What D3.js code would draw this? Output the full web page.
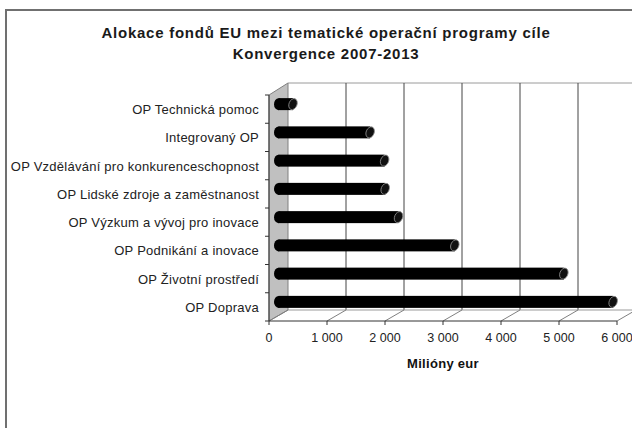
<!DOCTYPE html>
<html><head><meta charset="utf-8">
<script src="https://cdn.jsdelivr.net/npm/d3@7"></script>
<style>html,body{margin:0;padding:0;background:#fff;}svg{display:block;}</style>
</head><body>
<svg id="c" width="632" height="428"></svg>
<script>
const categories = ["OP Technická pomoc","Integrovaný OP","OP Vzdělávání pro konkurenceschopnost","OP Lidské zdroje a zaměstnanost","OP Výzkum a vývoj pro inovace","OP Podnikání a inovace","OP Životní prostředí","OP Doprava"];
const values = [250, 1580, 1830, 1840, 2070, 3040, 4920, 5770];
const tickValues = [0,1000,2000,3000,4000,5000,6000];
const tickLabels = ["0","1 000","2 000","3 000","4 000","5 000","6 000"];
const titleLines = ["Alokace fondů EU mezi tematické operační programy cíle","Konvergence 2007-2013"];
const axisTitle = "Milióny eur";

const svg = d3.select("#c");
const font = "'Liberation Sans', Arial, sans-serif";
const DX = 19, DY = -11;
const x = d3.scaleLinear().domain([0,6000]).range([269,617]);
const y = d3.scaleBand().domain(categories).range([95,321]);
const yTop = 95, yBot = 321;

// frame
svg.append("rect").attr("x",6).attr("y",10).attr("width",700).attr("height",500)
  .attr("fill","none").attr("stroke","#707070").attr("stroke-width",2);

// title
svg.append("g").selectAll("text").data(titleLines).join("text")
  .attr("x",326).attr("y",(d,i)=>38+i*21).attr("text-anchor","middle")
  .attr("font-family",font).attr("font-size",15).attr("font-weight","bold")
  .attr("letter-spacing",0.75).attr("fill","#1a1a1a").text(d=>d);

// back wall
svg.append("line").attr("x1",x(0)+DX).attr("x2",640).attr("y1",yTop+DY-1).attr("y2",yTop+DY-1)
  .attr("stroke","#9a9a9a").attr("stroke-width",1);
svg.append("g").selectAll("line").data(tickValues.slice(1)).join("line")
  .attr("x1",d=>x(d)+DX).attr("x2",d=>x(d)+DX).attr("y1",yTop+DY-1).attr("y2",yBot+DY)
  .attr("stroke","#444").attr("stroke-width",1);
svg.append("line").attr("x1",x(0)+DX).attr("x2",640).attr("y1",yBot+DY).attr("y2",yBot+DY)
  .attr("stroke","#9a9a9a");

// left wall
svg.append("path").attr("d",`M${x(0)},${yTop}L${x(0)+DX},${yTop+DY-1}L${x(0)+DX},${yBot+DY}L${x(0)},${yBot}Z`)
  .attr("fill","#c0c0c0").attr("stroke","#808080").attr("stroke-width",1);

// floor diagonals
svg.append("g").selectAll("line").data(tickValues).join("line")
  .attr("x1",d=>x(d)).attr("y1",yBot).attr("x2",d=>x(d)+DX).attr("y2",yBot+DY)
  .attr("stroke","#808080").attr("stroke-width",1);

// bars
const h = 12, mdx = DX/2, mdy = DY/2;
const bars = svg.append("g").selectAll("g").data(categories).join("g");
bars.each(function(c,i){
  const g = d3.select(this);
  const cy = y(c) + y.bandwidth()/2 + mdy + 0.5;
  const xs = x(0) + mdx, xe = x(values[i]) + mdx;
  g.append("ellipse").attr("cx",xs).attr("cy",cy).attr("rx",4.5).attr("ry",h/2).attr("fill","#000");
  g.append("rect").attr("x",xs).attr("y",cy-h/2).attr("width",Math.max(0,xe-xs)).attr("height",h).attr("fill","#000");
  g.append("ellipse").attr("cx",xe).attr("cy",cy).attr("rx",4).attr("ry",h/2-0.3)
    .attr("transform",`rotate(22,${xe},${cy})`).attr("fill","#111").attr("stroke","#8a8a8a").attr("stroke-width",0.8);
});

// left axis
svg.append("line").attr("x1",x(0)).attr("x2",x(0)).attr("y1",yTop).attr("y2",yBot).attr("stroke","#333");
const bounds = categories.map(c=>y(c)).concat([yBot]);
svg.append("g").selectAll("line").data(bounds).join("line")
  .attr("x1",x(0)-4).attr("x2",x(0)).attr("y1",d=>d).attr("y2",d=>d).attr("stroke","#333");
svg.append("g").selectAll("text").data(categories).join("text")
  .attr("x",259).attr("y",c=>y(c)+y.bandwidth()/2+5).attr("text-anchor","end")
  .attr("font-family",font).attr("font-size",13).attr("letter-spacing",0.25).attr("fill","#222").text(d=>d);

// bottom axis
svg.append("line").attr("x1",x(0)).attr("x2",x(6000)).attr("y1",yBot).attr("y2",yBot).attr("stroke","#333");
svg.append("g").selectAll("line").data(tickValues).join("line")
  .attr("x1",d=>x(d)).attr("x2",d=>x(d)).attr("y1",yBot).attr("y2",yBot+4).attr("stroke","#333");
svg.append("g").selectAll("text").data(tickValues).join("text")
  .attr("x",d=>x(d)).attr("y",342).attr("text-anchor","middle")
  .attr("font-family",font).attr("font-size",12.5).attr("fill","#222").text((d,i)=>tickLabels[i]);
svg.append("text").attr("x",443).attr("y",368).attr("text-anchor","middle")
  .attr("font-family",font).attr("font-size",13).attr("font-weight","bold").attr("letter-spacing",0.3)
  .attr("fill","#111").text(axisTitle);
</script>
</body></html>
